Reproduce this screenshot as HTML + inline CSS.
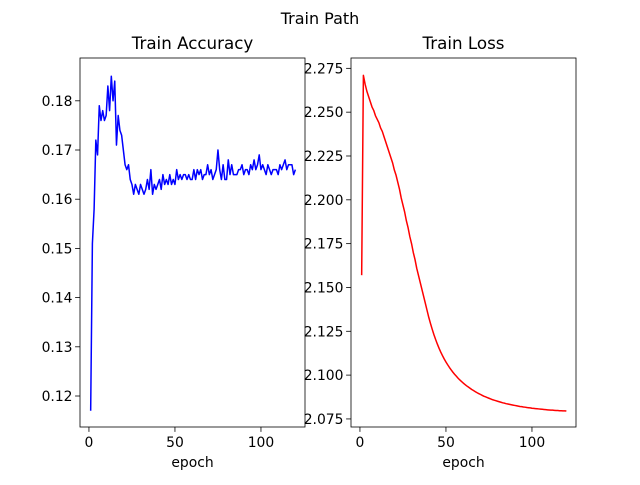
<!DOCTYPE html>
<html><head><meta charset="utf-8"><style>
body{margin:0;background:#fff}
svg text{font-family:"DejaVu Sans","Liberation Sans",sans-serif;fill:#000}
</style></head><body>
<svg id="c" width="640" height="480" viewBox="0 0 640 480" xmlns="http://www.w3.org/2000/svg">
<rect width="640" height="480" fill="#fff"/>
<text x="320" y="24" font-size="16" text-anchor="middle">Train Path</text>
<g id="g"></g>
</svg>
<script>
const accTicks = [0.12,0.13,0.14,0.15,0.16,0.17,0.18];
const accTickLabels = ["0.12","0.13","0.14","0.15","0.16","0.17","0.18"];
const lossTicks = [2.075,2.100,2.125,2.150,2.175,2.200,2.225,2.250,2.275];
const lossTickLabels = ["2.075","2.100","2.125","2.150","2.175","2.200","2.225","2.250","2.275"];
const xTicks = [0,50,100];
const xTickLabels = ["0","50","100"];
const accuracy = [.117,.151,.158,.172,.169,.179,.176,.178,.176,.177,.183,.178,.185,.180,.184,.171,.177,.174,.173,.170,.167,.166,.167,.164,.163,.161,.163,
.162,.161,.163,.162,.161,.162,.164,.162,.166,.161,.163,.162,.163,.164,.162,.165,.163,.164,.163,.165,.163,.164,.163,.166,.164,.165,.164,.165,.165,.164,.165,.164,.164,
.166,.164,.166,.165,.166,.164,.165,.165,.167,.165,.166,.164,.165,.166,.170,.166,.164,.167,.164,.164,.168,.165,.167,.165,.165,.165,.166,.166,.167,.165,
.166,.166,.165,.167,.166,.168,.166,.167,.169,.166,.167,.166,.165,.167,.166,.165,.166,.166,.166,.165,.167,.166,.167,.168,.166,.167,.167,.167,.165,.166];
const loss = [2.157,2.271,2.266,2.262,2.259,2.256,2.253,2.251,2.248,2.246,2.244,2.241,2.239,2.236,2.233,2.230,2.227,2.224,2.221,2.217,
2.214,2.210,2.206,2.201,2.197,2.193,2.188,2.184,2.179,2.175,2.170,2.166,2.161,2.157,2.153,2.149,2.145,2.141,2.137,2.133,
2.1295,2.1262,2.1231,2.1203,2.1177,2.1153,2.1131,2.1111,2.1092,2.1075,2.1059,2.1044,2.1030,2.1017,2.1005,2.0994,2.0983,2.0973,2.0964,2.0955,
2.0947,2.0939,2.0932,2.0925,2.0918,2.0912,2.0906,2.0900,2.0895,2.0890,2.0885,2.0880,2.0876,2.0872,2.0868,2.0864,2.0860,2.0857,2.0854,2.0851,
2.0848,2.0845,2.0842,2.0840,2.0837,2.0835,2.0833,2.0831,2.0829,2.0827,2.0825,2.0823,2.0821,2.0820,2.0818,2.0817,2.0815,2.0814,2.0813,2.0811,
2.0810,2.0809,2.0808,2.0807,2.0806,2.0805,2.0804,2.0803,2.0802,2.0801,2.0800,2.0800,2.0799,2.0798,2.0798,2.0797,2.0797,2.0796,2.0796,2.0795];

const NS="http://www.w3.org/2000/svg";
const g=document.getElementById('g');
function mk(tag,attrs,parent){const e=document.createElementNS(NS,tag);for(const k in attrs)e.setAttribute(k,attrs[k]);(parent||g).appendChild(e);return e;}

function panel(name,left,right,top,bottom,yMin,yMax,yt,ytl,data,color,title){
  const xMin=-5.2,xMax=125.6;
  const sx=v=>left+(v-xMin)/(xMax-xMin)*(right-left);
  const sy=v=>bottom-(v-yMin)/(yMax-yMin)*(bottom-top);
  const grp=mk('g',{});
  
  
  let d='';
  data.forEach((v,i)=>{d+=(i?'L':'M')+sx(i+1).toFixed(2)+','+sy(v).toFixed(2);});
  const p=mk('path',{d:d,fill:'none',stroke:color,'stroke-width':1.5,'stroke-linejoin':'round'},grp);
  
  
  const fr=mk('rect',{x:left,y:top,width:right-left,height:bottom-top,fill:'none',stroke:'#000','stroke-width':0.8},grp);
  
  
  yt.forEach((v,i)=>{
    const y=sy(v);
    mk('line',{x1:left-4.9,x2:left,y1:y,y2:y,stroke:'#000','stroke-width':0.8},grp);
    const t=mk('text',{x:left-7.5,y:y+5,'font-size':13.9,'text-anchor':'end'},grp);
    t.textContent=ytl[i];
    
    
  });
  xTicks.forEach((v,i)=>{
    const x=sx(v);
    mk('line',{x1:x,x2:x,y1:bottom,y2:bottom+4.9,stroke:'#000','stroke-width':0.8},grp);
    const t=mk('text',{x:x,y:bottom+20,'font-size':13.9,'text-anchor':'middle'},grp);
    t.textContent=xTickLabels[i];
    
    
  });
  const xl=mk('text',{x:(left+right)/2,y:bottom+40,'font-size':13.9,'text-anchor':'middle'},grp);
  xl.textContent='epoch';
  
  
  const tt=mk('text',{x:(left+right)/2,y:top-9,'font-size':16.7,'text-anchor':'middle'},grp);
  tt.textContent=title;
  
  
}
panel('accuracy',80,305,58,427,0.1137,0.1887,accTicks,accTickLabels,accuracy,'#0000ff','Train Accuracy');
panel('loss',351,576,58,427,2.0704,2.2809,lossTicks,lossTickLabels,loss,'#ff0000','Train Loss');
</script>
</body></html>
